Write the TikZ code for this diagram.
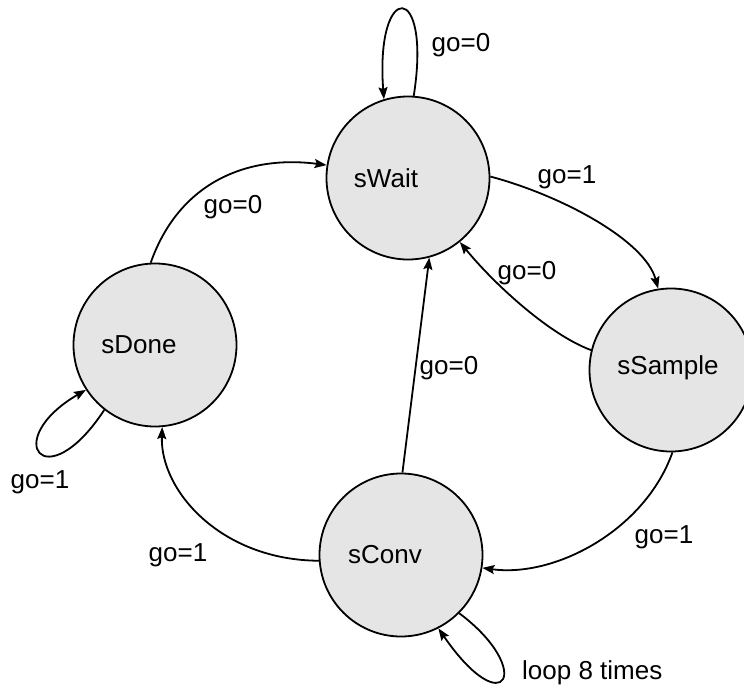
\documentclass[tikz,border=0pt]{standalone}
\usepackage{fontspec}
\setmainfont{Liberation Sans}
\usetikzlibrary{arrows.meta}
\begin{document}
\begin{tikzpicture}[x=1bp,y=-1bp,
  every node/.style={font=\fontsize{26bp}{31bp}\selectfont},
  state/.style={circle,draw,line width=1.8bp,fill=gray!20,minimum size=163bp,inner sep=0pt},
  trans/.style={line width=1.8bp,-{Stealth[length=12bp,width=9bp,inset=2bp]}},
  lbl/.style={inner sep=0pt}]
\useasboundingbox (0,0) rectangle (744,691);
\clip (0,0) rectangle (744,691);
\node[state,label={[xshift=-22bp]center:sWait}] (sWait) at (408,178) {};
\node[state,label={[xshift=-16bp]center:sDone}] (sDone) at (155,345) {};
\node[state,label={[xshift=-3bp,yshift=2bp]center:sSample}] (sSample) at (671,370) {};
\node[state,label={[xshift=-16bp]center:sConv}] (sConv) at (401,555) {};
% self loop sWait
\draw[trans] (sWait.86.6) .. controls (432,-20) and (375,-20) .. (sWait.107.4);
\node[lbl] (l1) at (461,45) {go=0};
% sDone -> sWait
\draw[trans] (sDone.93) .. controls (180,180) and (250,155) .. (sWait.171);
\node[lbl] (l2) at (233,207) {go=0};
% sWait -> sSample
\draw[trans] (sWait.1) .. controls (560,195) and (645,240) .. (sSample.99);
\node[lbl] (l3) at (567,177) {go=1};
% sSample -> sWait
\draw[trans] (sSample.166.6) .. controls (550,335) and (495,285) .. (sWait.-51.4);
\node[lbl] (l4) at (527,273) {go=0};
% sConv -> sWait
\draw[trans] (sConv.89.3) -- (sWait.-75);
\node[lbl] (l5) at (449,368) {go=0};
% sSample -> sConv
\draw[trans] (sSample.-89.3) .. controls (645,530) and (555,578) .. (sConv.-9.8);
\node[lbl] (l6) at (664,537) {go=1};
% sConv -> sDone
\draw[trans] (sConv.184.8) .. controls (220,560) and (160,490) .. (sDone.-85.4);
\node[lbl] (l7) at (178,555) {go=1};
% self loop sDone
\draw[trans] (sDone.232) .. controls (45,500) and (0,440) .. (sDone.213.3);
\node[lbl] (l8) at (40,482) {go=1};
% self loop sConv
\draw[trans] (sConv.-45.5) .. controls (535,670) and (505,725) .. (sConv.-63.1);
\node[lbl,anchor=west] (l9) at (522,673) {loop 8 times};
\end{tikzpicture}
\end{document}
